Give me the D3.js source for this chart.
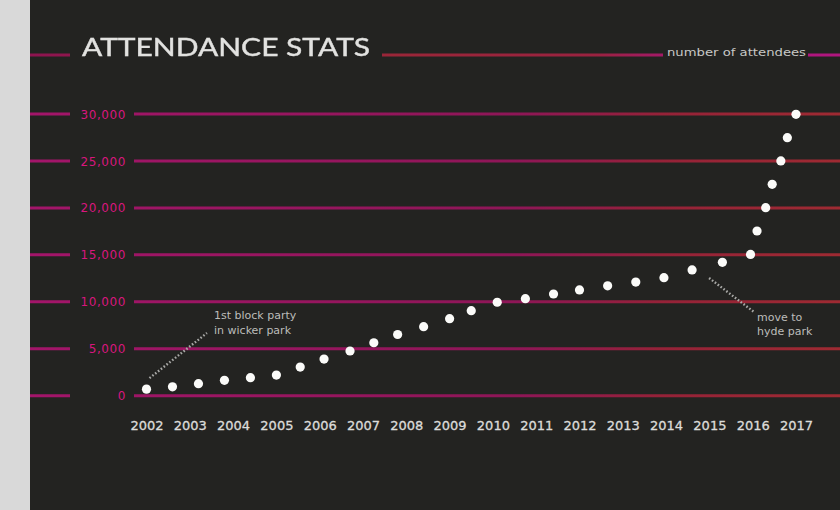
<!DOCTYPE html>
<meta charset="utf-8">
<style>
body { margin: 0; background: #d9d9d9; }
svg { display: block; }
.ylab { font: 12px "DejaVu Sans", sans-serif; fill: #d8167e; letter-spacing: 0.6px; }
.xaxis text { font: 13px "DejaVu Sans", sans-serif; fill: #dcdcda; stroke: #dcdcda; stroke-width: 0.3px; }
.note { font: 11px "DejaVu Sans", sans-serif; fill: #bcbcba; }
.lead { stroke: #a8a8a6; stroke-width: 2.4; stroke-dasharray: 1.6 2; fill: none; }
</style>
<body>
<script src="https://d3js.org/d3.v7.min.js"></script>
<script>

var yearTicks = [2002, 2003, 2004, 2005, 2006, 2007, 2008, 2009, 2010, 2011, 2012, 2013, 2014, 2015, 2016, 2017];
var valueTicks = [0, 5000, 10000, 15000, 20000, 25000, 30000];

// dot positions in year units, and attendee counts
var dotYear = [2002.0, 2002.6, 2003.2, 2003.8, 2004.4, 2005.0, 2005.55, 2006.1, 2006.7, 2007.25,
               2007.8, 2008.4, 2009.0, 2009.5, 2010.1, 2010.75, 2011.4, 2012.0, 2012.65, 2013.3,
               2013.95, 2014.6, 2015.3, 2015.95, 2016.1, 2016.3, 2016.45, 2016.65, 2016.8, 2017.0];
var attendees = [700, 950, 1280, 1640, 1920, 2200, 3050, 3900, 4760, 5640,
                 6520, 7350, 8200, 9050, 9950, 10330, 10830, 11260, 11700, 12100,
                 12570, 13390, 14200, 15040, 17540, 20020, 22510, 25000, 27480, 29970];

var notes = [
  {at: 0, lines: ["1st block party", "in wicker park"]},
  {at: 21, lines: ["move to", "hyde park"]}
];

var W = 840, H = 510;

var x = d3.scaleLinear().domain([2002, 2017]).range([146.5, 796]);
var y = d3.scaleLinear().domain([0, 30000]).range([395.7, 114]);

var svg = d3.select("body").append("svg")
    .attr("width", W)
    .attr("height", H);

var defs = svg.append("defs");
var g1 = defs.append("linearGradient").attr("id", "gridGrad")
    .attr("gradientUnits", "userSpaceOnUse").attr("x1", 30).attr("x2", 840).attr("y1", 0).attr("y2", 0);
g1.append("stop").attr("offset", "0%").attr("stop-color", "#a3156a");
g1.append("stop").attr("offset", "60%").attr("stop-color", "#8e1657");
g1.append("stop").attr("offset", "78%").attr("stop-color", "#952238");
g1.append("stop").attr("offset", "100%").attr("stop-color", "#9e2a32");

var g2 = defs.append("linearGradient").attr("id", "topGrad")
    .attr("gradientUnits", "userSpaceOnUse").attr("x1", 30).attr("x2", 840).attr("y1", 0).attr("y2", 0);
g2.append("stop").attr("offset", "0%").attr("stop-color", "#8e1450");
g2.append("stop").attr("offset", "45%").attr("stop-color", "#9a2638");
g2.append("stop").attr("offset", "70%").attr("stop-color", "#9a2240");
g2.append("stop").attr("offset", "82%").attr("stop-color", "#a8157a");
g2.append("stop").attr("offset", "100%").attr("stop-color", "#b0167e");

var blur = defs.append("filter").attr("id", "soft");
blur.append("feGaussianBlur").attr("stdDeviation", 0.5);

svg.append("rect")
    .attr("x", 30).attr("y", 0)
    .attr("width", W - 30).attr("height", H)
    .attr("fill", "#232321");

// header line with title
var topY = 55;
svg.append("line").attr("x1", 30).attr("x2", 70).attr("y1", topY).attr("y2", topY)
    .attr("stroke", "url(#topGrad)").attr("stroke-width", 3);
svg.append("line").attr("x1", 382).attr("x2", 663).attr("y1", topY).attr("y2", topY)
    .attr("stroke", "url(#topGrad)").attr("stroke-width", 3);
svg.append("line").attr("x1", 808).attr("x2", 840).attr("y1", topY).attr("y2", topY)
    .attr("stroke", "url(#topGrad)").attr("stroke-width", 3);

svg.append("text")
    .attr("x", 82).attr("y", 56)
    .attr("textLength", 288).attr("lengthAdjust", "spacingAndGlyphs")
    .style("font", "25px Lato, sans-serif")
    .style("fill", "#e2e2e0")
    .style("stroke", "#e2e2e0").style("stroke-width", "0.4px")
    .attr("filter", "url(#soft)")
    .text("ATTENDANCE STATS");

svg.append("text")
    .attr("x", 667).attr("y", 56)
    .attr("textLength", 139).attr("lengthAdjust", "spacingAndGlyphs")
    .style("font", "11px 'DejaVu Sans', sans-serif")
    .style("fill", "#c8c8c6")
    .text("number of attendees");

// gridlines split around labels
var grid = svg.append("g");
valueTicks.forEach(function(v) {
  grid.append("line").attr("x1", 30).attr("x2", 70)
      .attr("y1", y(v)).attr("y2", y(v))
      .attr("stroke", "url(#gridGrad)").attr("stroke-width", 3);
  grid.append("line").attr("x1", 134).attr("x2", W)
      .attr("y1", y(v)).attr("y2", y(v))
      .attr("stroke", "url(#gridGrad)").attr("stroke-width", 3);
  grid.append("text").attr("class", "ylab")
      .attr("x", 126).attr("y", y(v)).attr("dy", "0.38em")
      .attr("text-anchor", "end")
      .text(d3.format(",")(v));
});

// x axis labels
var xAxis = d3.axisBottom(x)
    .tickValues(yearTicks)
    .tickFormat(d3.format("d"))
    .tickSize(0)
    .tickPadding(0);

svg.append("g")
    .attr("class", "xaxis")
    .attr("transform", "translate(0,421)")
    .call(xAxis)
    .call(function(g) { g.select(".domain").remove(); });

// annotation leaders and text
var leads = [
  {from: [dotYear[0], attendees[0]], dx1: 3, dy1: -11, x2: 207, y2: 333, tx: 214, ty: [319, 334]},
  {from: [dotYear[21], attendees[21]], dx1: 17, dy1: 8, x2: 754, y2: 312, tx: 757, ty: [321, 335]}
];
leads.forEach(function(l, i) {
  var x1 = x(l.from[0]) + l.dx1, y1 = y(l.from[1]) + l.dy1;
  svg.append("line").attr("class", "lead")
      .attr("x1", x1).attr("y1", y1).attr("x2", l.x2).attr("y2", l.y2);
  notes[i].lines.forEach(function(t, j) {
    svg.append("text").attr("class", "note")
        .attr("x", l.tx).attr("y", l.ty[j])
        .text(t);
  });
});

// dots
svg.selectAll(".dot")
    .data(dotYear)
  .enter().append("circle")
    .attr("class", "dot")
    .attr("cx", function(d) { return x(d); })
    .attr("cy", function(d, i) { return y(attendees[i]); })
    .attr("r", 4.6)
    .attr("fill", "#fbfbf9")
    .attr("filter", "url(#soft)");

</script>
